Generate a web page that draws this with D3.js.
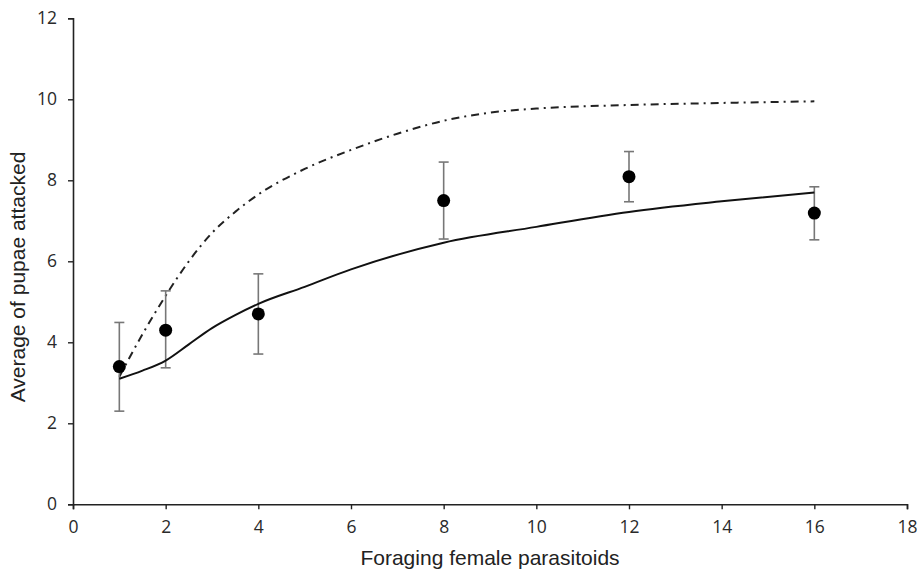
<!DOCTYPE html>
<html><head><meta charset="utf-8">
<script src="https://cdn.jsdelivr.net/npm/d3@7"></script>
<style>body{margin:0;background:#fff}</style>
</head><body>
<svg id="c" width="917" height="571"></svg>
<script>
// Observed data
const xPoints = [1, 2, 4, 8, 12, 16];
const yMeans = [3.4, 4.3, 4.7, 7.5, 8.09, 7.19];
const yErrLow = [2.3, 3.37, 3.71, 6.55, 7.47, 6.53];
const yErrHigh = [4.49, 5.27, 5.69, 8.45, 8.71, 7.84];
// Fitted model (solid)
const fitX = [1, 1.5, 2, 2.5, 3, 3.5, 4, 5, 6, 8, 10, 12, 14, 16];
const fitY = [3.1, 3.3, 3.55, 3.95, 4.35, 4.67, 4.95, 5.37, 5.8, 6.46, 6.85, 7.22, 7.48, 7.7];
// Second model (dash-dot)
const dashX = [1, 1.5, 2, 2.5, 3, 3.5, 4, 5, 6, 7, 8, 9, 10, 12, 14, 16];
const dashY = [3.15, 4.2, 5.15, 6.0, 6.7, 7.22, 7.65, 8.28, 8.75, 9.15, 9.47, 9.67, 9.77, 9.86, 9.91, 9.95];
const xTicks = [0, 2, 4, 6, 8, 10, 12, 14, 16, 18];
const yTicks = [0, 2, 4, 6, 8, 10, 12];

const svg = d3.select("#c");
const x = d3.scaleLinear().domain([0, 18]).range([73, 907]);
const y = d3.scaleLinear().domain([0, 12]).range([504.3, 18.3]);

const tickFont = "'Open Sans', sans-serif";
const titleFont = "'Liberation Sans', Arial, sans-serif";

// Axes
const xAxis = svg.append("g").attr("transform", `translate(0,${y(0)})`)
  .call(d3.axisBottom(x).tickValues(xTicks).tickSize(5).tickPadding(11).tickFormat(d3.format("d")));
const yAxis = svg.append("g").attr("transform", `translate(${x(0)},0)`)
  .call(d3.axisLeft(y).tickValues(yTicks).tickSize(5).tickPadding(11).tickFormat(d3.format("d")));
[xAxis, yAxis].forEach(a => {
  a.select(".domain").attr("stroke", "#222").attr("stroke-width", 1.6);
  a.selectAll(".tick line").attr("stroke", "#222").attr("stroke-width", 1.4);
  a.selectAll(".tick text").attr("font-family", tickFont).attr("font-size", 17.5).attr("fill", "#2a2a2a");
});

// Curves
const lineGen = d3.line().x(d => x(d[0])).y(d => y(d[1])).curve(d3.curveMonotoneX);
svg.append("path").datum(d3.zip(dashX, dashY)).attr("d", lineGen)
  .attr("fill", "none").attr("stroke", "#222").attr("stroke-width", 2)
  .attr("stroke-dasharray", "8,5,2,5");

// Error bars
const eb = svg.append("g").attr("stroke", "#777").attr("stroke-width", 1.6);
xPoints.forEach((xv, i) => {
  eb.append("line").attr("x1", x(xv)).attr("x2", x(xv)).attr("y1", y(yErrLow[i])).attr("y2", y(yErrHigh[i]));
  eb.append("line").attr("x1", x(xv) - 5).attr("x2", x(xv) + 5).attr("y1", y(yErrLow[i])).attr("y2", y(yErrLow[i]));
  eb.append("line").attr("x1", x(xv) - 5).attr("x2", x(xv) + 5).attr("y1", y(yErrHigh[i])).attr("y2", y(yErrHigh[i]));
});

svg.append("path").datum(d3.zip(fitX, fitY)).attr("d", lineGen)
  .attr("fill", "none").attr("stroke", "#111").attr("stroke-width", 2);

// Points
svg.append("g").selectAll("circle").data(d3.zip(xPoints, yMeans)).join("circle")
  .attr("cx", d => x(d[0])).attr("cy", d => y(d[1])).attr("r", 6.5).attr("fill", "#000");

// Titles
svg.append("text").attr("x", 490).attr("y", 565).attr("text-anchor", "middle")
  .attr("font-family", titleFont).attr("font-size", 21).attr("fill", "#222")
  .text("Foraging female parasitoids");
svg.append("text").attr("transform", "translate(25,277) rotate(-90)").attr("text-anchor", "middle")
  .attr("font-family", titleFont).attr("font-size", 21).attr("fill", "#222")
  .text("Average of pupae attacked");
</script>
</body></html>
